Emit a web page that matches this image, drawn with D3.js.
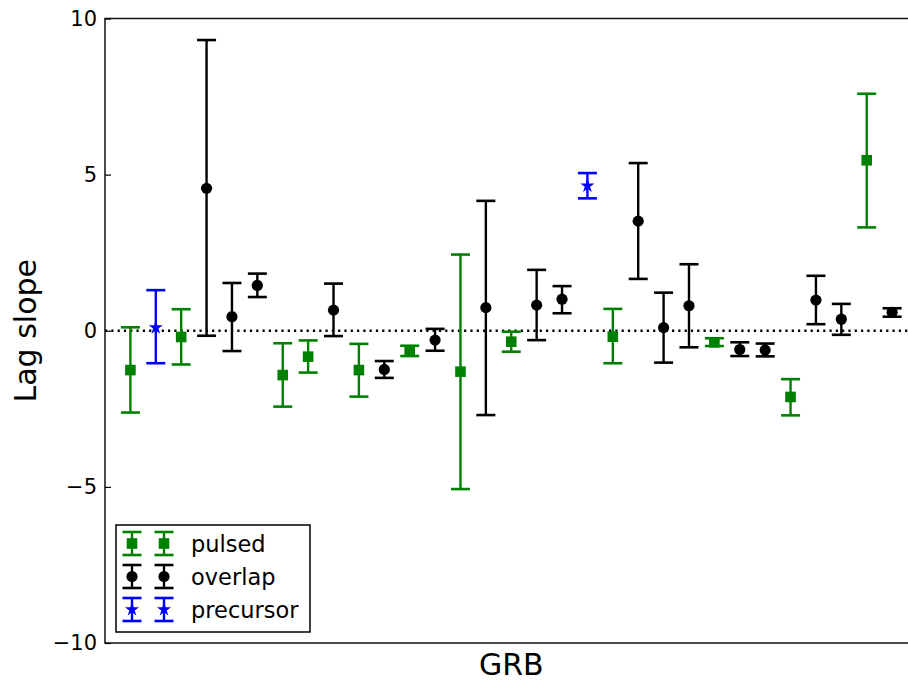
<!DOCTYPE html>
<html>
<head>
<meta charset="utf-8">
<script src="https://cdn.jsdelivr.net/npm/d3@7"></script>
<style>
  body { margin: 0; background: #fff; }
  svg { display: block; font-family: "DejaVu Sans", sans-serif; }
</style>
</head>
<body>
<div class="holder"></div>
<script>
// GRB lag slopes
var pulsedX = [1, 3, 7, 8, 10, 12, 14, 16, 20, 24, 27, 30];
var pulsedSlope = [-1.26, -0.20, -1.42, -0.83, -1.26, -0.64, -1.31, -0.35, -0.19, -0.37, -2.12, 5.46];
var pulsedHi = [0.11, 0.69, -0.40, -0.31, -0.42, -0.48, 2.44, -0.03, 0.70, -0.24, -1.55, 7.59];
var pulsedLo = [-2.62, -1.08, -2.43, -1.34, -2.11, -0.81, -5.07, -0.67, -1.04, -0.49, -2.71, 3.31];

var overlapX = [4, 5, 6, 9, 11, 13, 15, 17, 18, 21, 22, 23, 25, 26, 28, 29, 31];
var overlapSlope = [4.56, 0.45, 1.45, 0.66, -1.24, -0.30, 0.74, 0.82, 1.01, 3.51, 0.10, 0.80, -0.60, -0.62, 0.98, 0.37, 0.59];
var overlapHi = [9.31, 1.53, 1.83, 1.51, -0.97, 0.06, 4.16, 1.95, 1.43, 5.37, 1.22, 2.13, -0.37, -0.41, 1.76, 0.86, 0.72];
var overlapLo = [-0.16, -0.65, 1.08, -0.17, -1.51, -0.64, -2.70, -0.30, 0.56, 1.66, -1.02, -0.53, -0.81, -0.82, 0.21, -0.13, 0.45];

var precursorX = [2, 19];
var precursorSlope = [0.10, 4.64];
var precursorHi = [1.30, 5.05];
var precursorLo = [-1.04, 4.24];

var yTicks = [-10, -5, 0, 5, 10];
var seriesNames = ["pulsed", "overlap", "precursor"];

(function() {
  var width = 908, height = 684;
  var plotLeft = 105, plotRight = 917.5, plotTop = 18.5, plotBottom = 643;
  var capHalf = 9.5;

  var svg = d3.select(".holder").append("svg")
    .attr("width", width)
    .attr("height", height);

  var x = d3.scaleLinear().domain([0, 32]).range([plotLeft, plotRight]);
  var y = d3.scaleLinear().domain([-10, 10]).range([plotBottom, plotTop]);

  // zero line
  svg.append("line")
    .attr("x1", plotLeft).attr("x2", plotRight)
    .attr("y1", y(0)).attr("y2", y(0))
    .style("stroke", "#000")
    .style("stroke-width", 2.3)
    .style("stroke-dasharray", "2.2,4.1");

  function zip(xs, ys, his, los) {
    return xs.map(function(d, i) { return { x: d, y: ys[i], hi: his[i], lo: los[i] }; });
  }

  var series = [
    { name: "pulsed", color: "#008000", marker: "square", data: zip(pulsedX, pulsedSlope, pulsedHi, pulsedLo) },
    { name: "overlap", color: "#000000", marker: "circle", data: zip(overlapX, overlapSlope, overlapHi, overlapLo) },
    { name: "precursor", color: "#0000ff", marker: "star", data: zip(precursorX, precursorSlope, precursorHi, precursorLo) }
  ];

  function drawMarker(g, type, color) {
    if (type === "square") {
      g.append("rect").attr("x", -5.3).attr("y", -5.3).attr("width", 10.6).attr("height", 10.6)
        .style("fill", color);
    } else if (type === "circle") {
      g.append("circle").attr("r", 5.6).style("fill", color);
    } else {
      g.append("path").attr("d", d3.symbol().type(d3.symbolStar).size(62)())
        .style("fill", color);
    }
  }

  function drawBar(g, x0, yHi, yLo, color) {
    g.append("line").attr("x1", x0).attr("x2", x0).attr("y1", yHi).attr("y2", yLo)
      .style("stroke", color).style("stroke-width", 2.4);
    [yHi, yLo].forEach(function(yy) {
      g.append("line").attr("x1", x0 - capHalf).attr("x2", x0 + capHalf).attr("y1", yy).attr("y2", yy)
        .style("stroke", color).style("stroke-width", 2.6);
    });
  }

  series.forEach(function(s) {
    var g = svg.append("g").attr("class", s.name);
    s.data.forEach(function(d) {
      drawBar(g, x(d.x), y(d.hi), y(d.lo), s.color);
      var m = g.append("g").attr("transform", "translate(" + x(d.x) + "," + y(d.y) + ")");
      drawMarker(m, s.marker, s.color);
    });
  });

  // frame
  svg.append("rect")
    .attr("x", plotLeft).attr("y", plotTop)
    .attr("width", plotRight - plotLeft).attr("height", plotBottom - plotTop)
    .style("fill", "none").style("stroke", "#111").style("stroke-width", 1.5);

  // y axis, ticks pointing in
  var yAxis = d3.axisLeft(y).tickValues(yTicks).tickSizeInner(-6).tickSizeOuter(0).tickPadding(8)
    .tickFormat(function(d) { return d < 0 ? "\u2212" + Math.abs(d) : d; });
  var ya = svg.append("g").attr("transform", "translate(" + plotLeft + ",0)").call(yAxis);
  ya.select(".domain").remove();
  ya.selectAll("line").style("stroke", "#000").style("stroke-width", 1.2);
  ya.selectAll("text").style("font-size", "21px").style("fill", "#000")
    .attr("font-family", "DejaVu Sans");

  // axis labels
  svg.append("text")
    .attr("transform", "translate(36," + ((plotTop + plotBottom) / 2) + ") rotate(-90)")
    .attr("text-anchor", "middle")
    .style("font-size", "30px")
    .text("Lag slope");

  svg.append("text")
    .attr("x", (plotLeft + plotRight) / 2).attr("y", 675)
    .attr("text-anchor", "middle")
    .style("font-size", "30px")
    .text("GRB");

  // legend
  var legend = svg.append("g");
  legend.append("rect")
    .attr("x", 116).attr("y", 525).attr("width", 194).attr("height", 107)
    .style("fill", "#fff").style("stroke", "#000").style("stroke-width", 1.5);

  series.forEach(function(s, i) {
    var cy = 543.5 + i * 33;
    [132, 164].forEach(function(cx) {
      drawBar(legend, cx, cy - 11.5, cy + 11.5, s.color);
      var m = legend.append("g").attr("transform", "translate(" + cx + "," + cy + ")");
      drawMarker(m, s.marker, s.color);
    });
    legend.append("text")
      .attr("x", 191).attr("y", cy + 8)
      .style("font-size", "22.5px")
      .text(seriesNames[i]);
  });
})();
</script>
</body>
</html>
